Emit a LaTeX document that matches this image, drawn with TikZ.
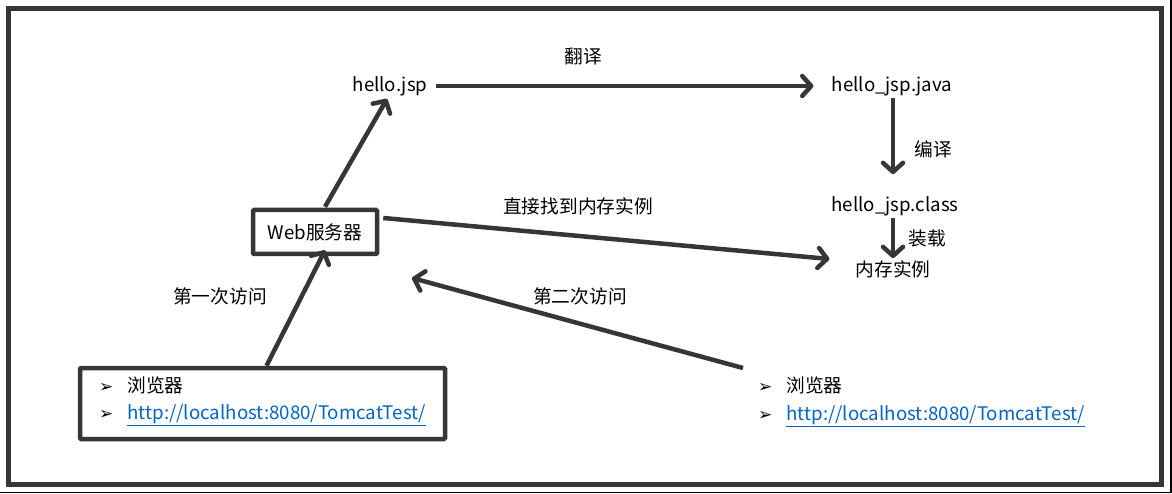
\documentclass[tikz,border=0pt]{standalone}
\usepackage{fontspec}
\setmainfont{Noto Sans CJK SC}
\newfontfamily\symfont{DejaVu Sans}
\usetikzlibrary{arrows.meta}
\definecolor{dgray}{HTML}{363636}
\definecolor{linkblue}{HTML}{0563C1}
\newcommand{\bul}{{\symfont\fontsize{17}{20}\selectfont ➢}\hspace{14pt}}
\newcommand{\weblink}[1]{\textcolor{linkblue}{\underline{#1}}}
\tikzset{
	arr/.style={draw=dgray, line width=4.5pt, -{Straight Barb[length=9pt,width=20pt,round]}},
	box/.style={draw=dgray, line width=4.5pt, rounded corners=1pt},
	lbl/.style={inner sep=2pt},
	item/.style={inner sep=0pt, anchor=west},
}
\begin{document}
\begin{tikzpicture}[x=1pt, y=-1pt, font=\fontsize{18.7}{22}\selectfont]
	\useasboundingbox (0,0) rectangle (1172,494);
	\draw[dgray, line width=5pt] (8,8.5) rectangle (1161.5,484.5);
	\draw[black, line width=1.2pt] (0,492.5) -- (1171,492.5) -- (1171,0);

	\node[lbl] (jsp) at (390,86) {hello.jsp};
	\node[lbl] (java) at (892,86) {hello\_jsp.java};
	\node[lbl] (class) at (895,206) {hello\_jsp.class};
	\node[lbl] (mem) at (893,269) {内存实例};
	\node[box, minimum width=124pt, minimum height=44pt] (web) at (315,232) {Web服务器};
	\node[box, minimum width=365pt, minimum height=71pt] (brA) at (262.5,403.5) {};

	\node[item] (brAname) at (99,385) {\bul 浏览器};
	\node[item] (brAurl) at (99,415) {\bul\weblink{http://localhost:8080/TomcatTest/}};
	\node[item] (brBname) at (758,385) {\bul 浏览器};
	\node[item] (brBurl) at (758,416) {\bul\weblink{http://localhost:8080/TomcatTest/}};

	\node[lbl] (translate) at (583,56) {翻译};
	\node[lbl] (compile) at (933,149) {编译};
	\node[lbl] (load) at (927,238) {装载};
	\node[lbl] (direct) at (578,206) {直接找到内存实例};
	\node[lbl] (second) at (580,296) {第二次访问};
	\node[lbl] (first) at (220,296) {第一次访问};

	\coordinate (secondend) at (412,278);

	\draw[arr, shorten <=6pt, shorten >=16pt] (jsp.east) -- (java.west);
	\draw[arr, shorten >=20pt] ([xshift=1pt]java.south) -- ([xshift=1pt]java.south |- class.north);
	\draw[arr] ([xshift=-2pt]class.south) -- ([xshift=-2pt]class.south |- mem.north);
	\draw[arr] ([xshift=10pt,yshift=1pt]web.north) -- ([xshift=-3pt,yshift=-1pt]jsp.south);
	\draw[arr] ([xshift=4pt]brA.north) -- ([xshift=10pt,yshift=6pt]web.south);
	\draw[arr] ([xshift=4pt,yshift=14pt]web.east) -- ([xshift=-24pt,yshift=10pt]mem.west);
	\draw[arr] ([xshift=-15pt,yshift=17pt]brBname.west) -- (secondend);
\end{tikzpicture}
\end{document}
